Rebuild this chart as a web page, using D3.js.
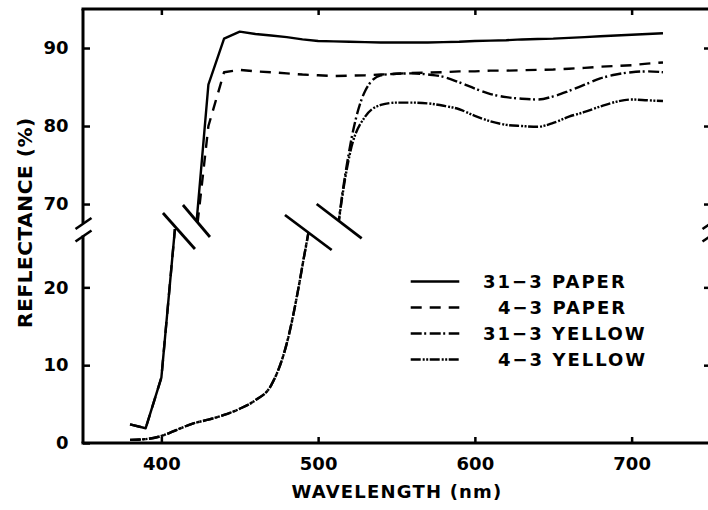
<!DOCTYPE html>
<html><head><meta charset="utf-8">
<script src="https://cdn.jsdelivr.net/npm/d3@7/dist/d3.min.js"></script>
<style>
body{margin:0;background:#fff}
svg{display:block}
</style>
</head><body>
<svg id="chart" width="708" height="510"></svg>
<script>
// ---------------- data ----------------
const wavelengths = [380,390,400,410,420,430,440,450,460,470,480,490,500,510,520,530,540,550,560,570,580,590,600,610,620,630,640,650,660,670,680,690,700,710,720];
const paper31  = [2.4,1.9,8.4,30.5,62,85.3,91.2,92.1,91.8,91.6,91.4,91.1,90.9,90.85,90.8,90.75,90.7,90.7,90.7,90.7,90.75,90.8,90.9,90.95,91.0,91.1,91.15,91.2,91.3,91.4,91.5,91.6,91.7,91.8,91.9];
const paper4   = [2.4,1.9,8.4,30.5,62,80,86.9,87.2,87.0,86.9,86.75,86.6,86.5,86.4,86.45,86.5,86.6,86.7,86.8,86.85,86.9,87.0,87.0,87.1,87.1,87.15,87.2,87.25,87.35,87.45,87.6,87.7,87.8,88.0,88.15];
const yellow31 = [0.4,0.5,0.9,1.7,2.5,3.0,3.6,4.4,5.5,7.4,12.8,22.8,36,62,77,84.5,86.5,86.7,86.75,86.6,86.3,85.6,84.8,84.1,83.7,83.5,83.4,83.8,84.5,85.3,86.1,86.6,86.9,87.0,86.9];
const yellow4  = [0.4,0.5,0.9,1.7,2.5,3.0,3.6,4.4,5.5,7.4,12.8,22.8,36,62,76.2,81.2,82.7,83.0,83.0,82.9,82.6,82.15,81.3,80.6,80.15,80.0,79.9,80.4,81.2,81.8,82.5,83.1,83.4,83.3,83.2];
const seriesNames = ["31\u22123 PAPER","4\u22123 PAPER","31\u22123 YELLOW","4\u22123 YELLOW"];
const xTicks = [400,500,600,700];
const yTicksUpper = [70,80,90];
const yTicksLower = [0,10,20];
const xTitle = "WAVELENGTH (nm)";
const yTitle = "REFLECTANCE (%)";

// ---------------- layout / style ----------------
const L = 83, R = 710, T = 9, B = 443, BRK = 229;
const FONT = "'DejaVu Sans', sans-serif";
const dashes = [null, "11,8", "11,2.5,2,3.5", "10,2,2,1.5,2,1.5"];
const curves = [d3.curveLinear, d3.curveLinear, d3.curveMonotoneX, d3.curveMonotoneX];
const values = [paper31, paper4, yellow31, yellow4];

const svg = d3.select("#chart");
const x = d3.scaleLinear().domain([350, 750]).range([L, R]);
const yLo = d3.scaleLinear().domain([0, 27.5]).range([B, BRK]);
const yHi = d3.scaleLinear().domain([66.8, 95]).range([BRK, T]);

const defs = svg.append("defs");
defs.append("clipPath").attr("id", "clipLo").append("rect")
  .attr("x", L).attr("y", BRK).attr("width", R - L).attr("height", B - BRK);
defs.append("clipPath").attr("id", "clipHi").append("rect")
  .attr("x", L).attr("y", T).attr("width", R - L).attr("height", BRK - T);

// ---------------- data lines ----------------
function drawSeries(scale, clipId) {
  const gl = svg.append("g").attr("clip-path", `url(#${clipId})`);
  values.forEach((vals, k) => {
    const line = d3.line().curve(curves[k]).x((d, i) => x(wavelengths[i])).y(v => scale(v));
    gl.append("path").datum(vals)
      .attr("d", line)
      .attr("fill", "none")
      .attr("stroke", "#000")
      .attr("stroke-width", 2.4)
      .attr("stroke-linejoin", "round")
      .attr("stroke-dasharray", dashes[k]);
  });
}
drawSeries(yLo, "clipLo");
drawSeries(yHi, "clipHi");

// ---------------- break marks across curves ----------------
const breaks = [
  {cx: x(416.8), cy: 226, s1: [[-24.75, -13], [7.25, 23]], s2: [[-4.75, -21], [22.25, 11]]},
  {cx: x(503.6), cy: 226.8, s1: [[-38.8, -11.8], [7.9, 23.2]], s2: [[-7.1, -22.8], [37.9, 11.5]]}
];
breaks.forEach(b => {
  const p = (q) => [b.cx + q[0], b.cy + q[1]];
  svg.append("polygon")
    .attr("points", [p(b.s1[0]), p(b.s1[1]), p(b.s2[1]), p(b.s2[0])].map(d => d.join(",")).join(" "))
    .attr("fill", "#fff");
  [b.s1, b.s2].forEach(s => {
    svg.append("line")
      .attr("x1", p(s[0])[0]).attr("y1", p(s[0])[1])
      .attr("x2", p(s[1])[0]).attr("y2", p(s[1])[1])
      .attr("stroke", "#000").attr("stroke-width", 2.8);
  });
});

// ---------------- frame ----------------
const frame = svg.append("g").attr("stroke", "#000").attr("stroke-width", 3).attr("fill", "none");
frame.append("line").attr("x1", L - 1.5).attr("x2", R).attr("y1", T).attr("y2", T);
frame.append("line").attr("x1", L - 1.5).attr("x2", R).attr("y1", B).attr("y2", B);
[L, R].forEach(ax => {
  frame.append("line").attr("x1", ax).attr("x2", ax).attr("y1", T).attr("y2", 223.5);
  frame.append("line").attr("x1", ax).attr("x2", ax).attr("y1", 235.5).attr("y2", B);
  frame.append("line").attr("x1", ax - 7.5).attr("y1", 229).attr("x2", ax + 8.5).attr("y2", 218).attr("stroke-width", 2.6);
  frame.append("line").attr("x1", ax - 7.5).attr("y1", 241.5).attr("x2", ax + 8.5).attr("y2", 230.5).attr("stroke-width", 2.6);
});

// ---------------- axes ----------------
function styleAxis(g) {
  g.select(".domain").remove();
  g.selectAll(".tick line").attr("stroke", "#000").attr("stroke-width", 2.5);
  g.selectAll(".tick text").attr("fill", "#000");
  g.attr("font-family", FONT).attr("font-size", 18).attr("font-weight", "bold");
}
svg.append("g").attr("transform", `translate(0,${B})`)
  .call(d3.axisBottom(x).tickValues(xTicks).tickSizeInner(-6).tickSizeOuter(0).tickPadding(14))
  .call(styleAxis);
svg.append("g").attr("transform", `translate(0,${T})`)
  .call(d3.axisTop(x).tickValues(xTicks).tickSizeInner(-6).tickSizeOuter(0).tickFormat(""))
  .call(styleAxis);
svg.append("g").attr("transform", `translate(${L},0)`)
  .call(d3.axisLeft(yHi).tickValues(yTicksUpper).tickSizeInner(-7).tickSizeOuter(0).tickPadding(14.5))
  .call(styleAxis);
svg.append("g").attr("transform", `translate(${L},0)`)
  .call(d3.axisLeft(yLo).tickValues(yTicksLower).tickSizeInner(-7).tickSizeOuter(0).tickPadding(14.5))
  .call(styleAxis);
svg.append("g").attr("transform", `translate(${R},0)`)
  .call(d3.axisRight(yHi).tickValues(yTicksUpper).tickSizeInner(-6).tickSizeOuter(0).tickFormat(""))
  .call(styleAxis);
svg.append("g").attr("transform", `translate(${R},0)`)
  .call(d3.axisRight(yLo).tickValues(yTicksLower.filter(v => v > 0)).tickSizeInner(-6).tickSizeOuter(0).tickFormat(""))
  .call(styleAxis);

// ---------------- titles ----------------
svg.append("text").text(xTitle)
  .attr("x", 397).attr("y", 498.3).attr("text-anchor", "middle")
  .attr("font-family", FONT).attr("font-size", 18).attr("font-weight", "bold")
  .attr("letter-spacing", 1.2);
svg.append("text").text(yTitle)
  .attr("transform", "translate(31.5,222.5) rotate(-90)").attr("text-anchor", "middle")
  .attr("font-family", FONT).attr("font-size", 20).attr("font-weight", "bold")
  .attr("letter-spacing", 0.6);

// ---------------- legend ----------------
const leg = svg.append("g");
seriesNames.forEach((name, i) => {
  const yy = 281.5 + i * 26;
  leg.append("line").attr("x1", 410.7).attr("x2", 459.3).attr("y1", yy).attr("y2", yy)
    .attr("stroke", "#000").attr("stroke-width", 2.5).attr("stroke-dasharray", dashes[i]);
  leg.append("text").text(name)
    .attr("x", name.startsWith("31") ? 483 : 498).attr("y", yy).attr("dy", "0.36em")
    .attr("font-family", FONT).attr("font-size", 18).attr("font-weight", "bold")
    .attr("letter-spacing", 2);
});
</script>
</body></html>
